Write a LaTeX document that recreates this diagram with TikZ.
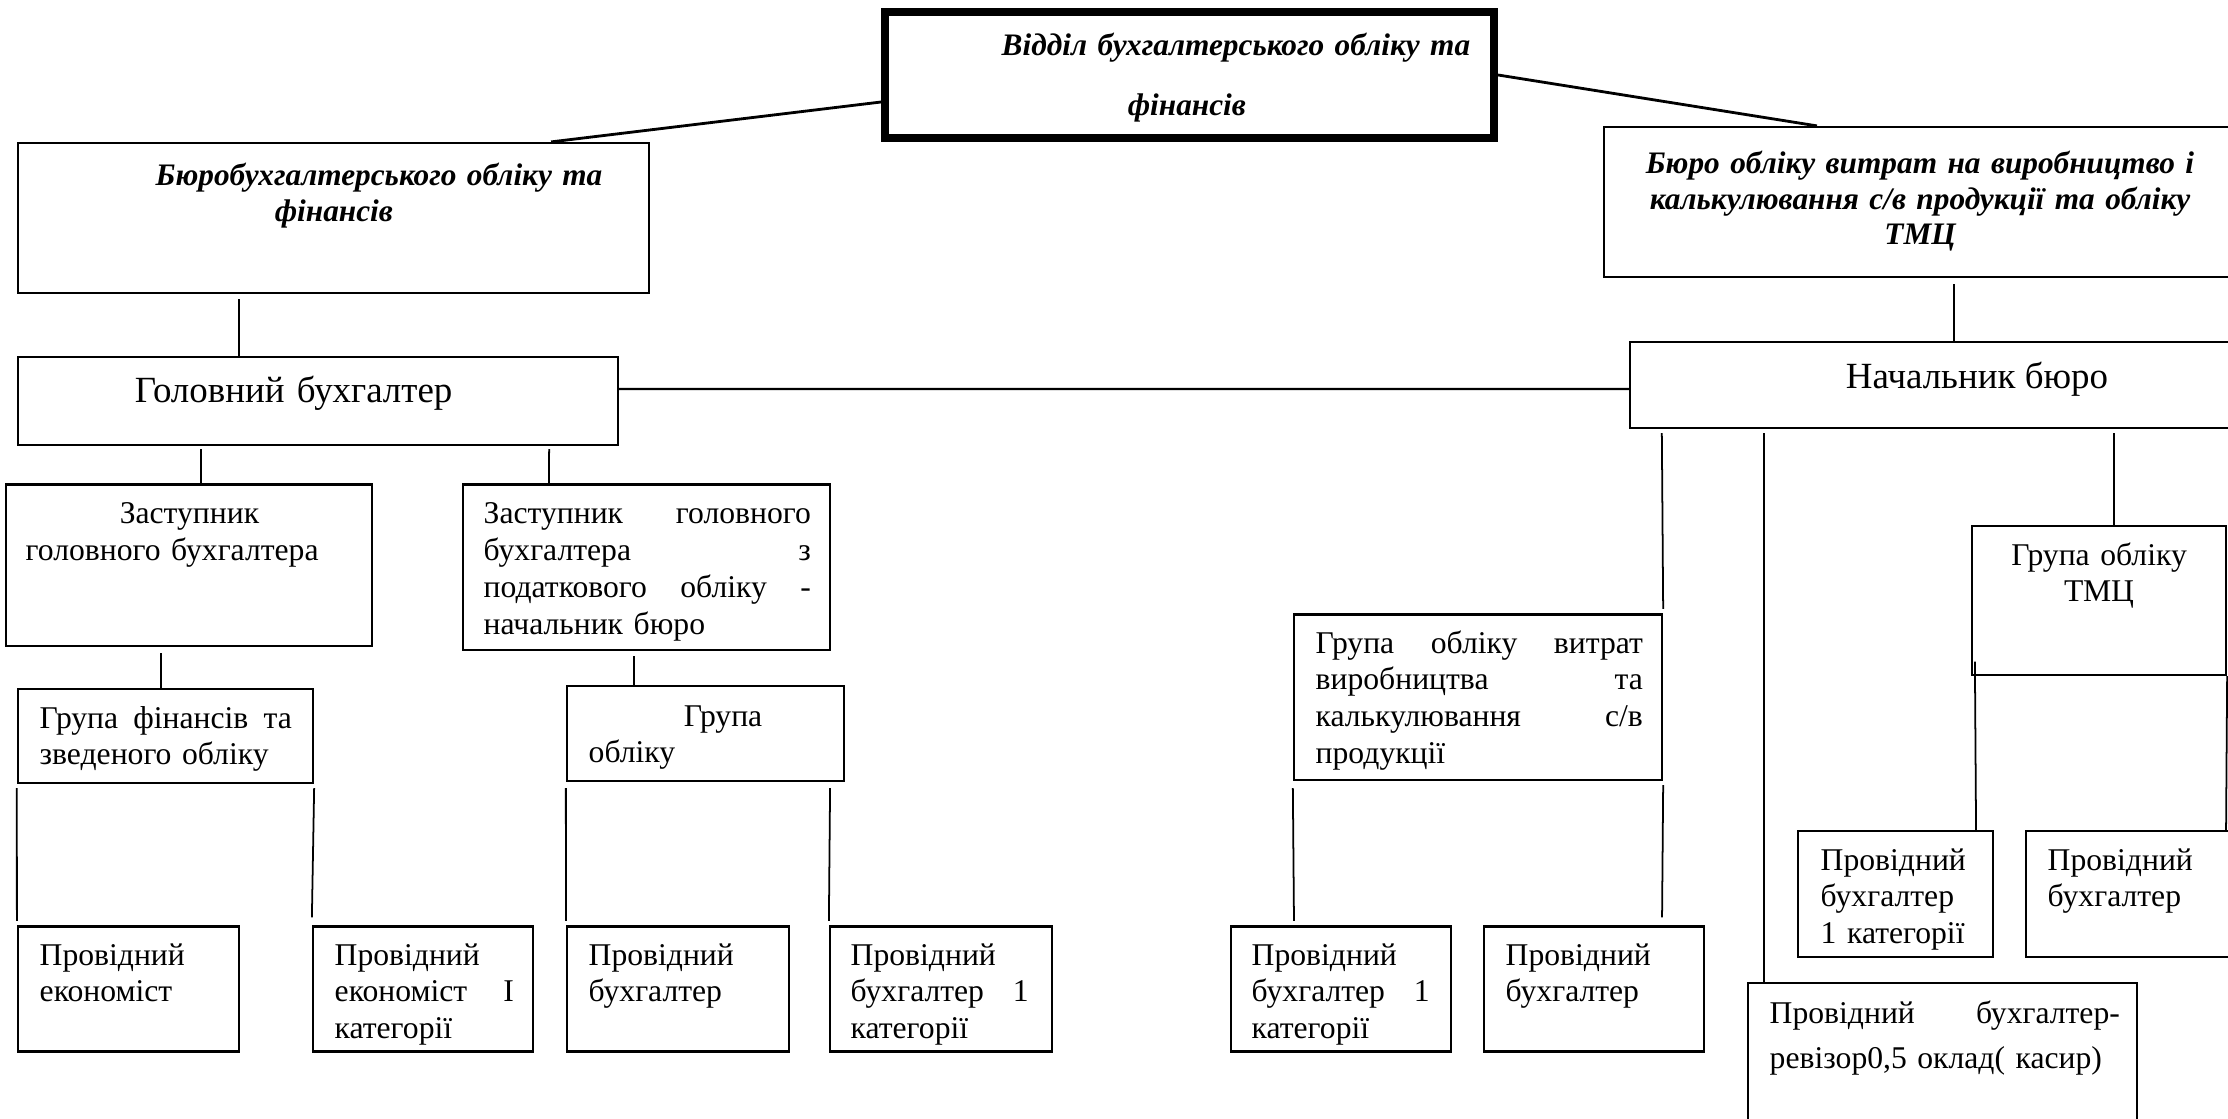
\documentclass[tikz,border=0pt]{standalone}
\usepackage{fontspec}
\setmainfont{Liberation Serif}
\begin{document}
\begin{tikzpicture}[x=0.01cm, y=-0.01cm,
    boxn/.style={draw, line width=0.6pt, inner sep=0pt},
    txt/.style={anchor=base west, align=left, inner sep=0pt, font=\fontsize{9}{10.5}\selectfont},
    ttl/.style={font=\fontsize{8.9}{10.2}\selectfont\bfseries\itshape},
    big/.style={font=\fontsize{10.5}{12}\selectfont, text height=7pt},
    conn/.style={line width=0.5pt}]
  \useasboundingbox (0,0) rectangle (2228,1119);
  \clip (0,0) rectangle (2228,1119);

  \node[boxn, line width=2.2pt, minimum width=6.09cm, minimum height=1.26cm] (nTop) at (1189.5,75) {};
  \node[boxn, minimum width=6.31cm, minimum height=1.5cm] (nBuro) at (333.5,218) {};
  \node[boxn, minimum width=6.32cm, minimum height=1.5cm] (nBuroR) at (1920,202) {};
  \node[boxn, big, text depth=6pt, minimum width=6cm, minimum height=0.88cm, text width=3.66cm, inner xsep=1.17cm, align=left] (nChief) at (318,401) {Головний бухгалтер};
  \node[boxn, big, text depth=5pt, minimum width=6.94cm, minimum height=0.86cm] (nHead) at (1977,385) {Начальник бюро};
  \node[boxn, minimum width=3.66cm, minimum height=1.615cm] (nDep1) at (189,565.25) {};
  \node[boxn, minimum width=3.67cm, minimum height=1.655cm] (nDep2) at (646.5,567.25) {};
  \node[boxn, minimum width=2.95cm, minimum height=0.94cm] (nGrFin) at (165.5,736) {};
  \node[boxn, minimum width=2.77cm, minimum height=0.95cm] (nGrObl) at (705.5,733.5) {};
  \node[boxn, minimum width=3.68cm, minimum height=1.655cm] (nGrVyt) at (1478,697.25) {};
  \node[boxn, minimum width=2.54cm, minimum height=1.49cm] (nGrTMC) at (2099,600.5) {};
  \node[boxn, minimum width=2.21cm, minimum height=1.25cm] (nEc1) at (128.5,989) {};
  \node[boxn, minimum width=2.2cm, minimum height=1.25cm] (nEc2) at (423,989) {};
  \node[boxn, minimum width=2.22cm, minimum height=1.25cm] (nBh1) at (678,989) {};
  \node[boxn, minimum width=2.22cm, minimum height=1.25cm] (nBh2) at (941,989) {};
  \node[boxn, minimum width=2.2cm, minimum height=1.25cm] (nBh3) at (1341,989) {};
  \node[boxn, minimum width=2.2cm, minimum height=1.25cm] (nBh4) at (1594,989) {};
  \node[boxn, minimum width=1.95cm, minimum height=1.26cm] (nBh5) at (1895.5,894) {};
  \node[boxn, minimum width=2.74cm, minimum height=1.26cm] (nBh6) at (2163,894) {};
  \node[boxn, minimum width=3.89cm, minimum height=2.17cm] (nRev) at (1942.5,1091.5) {};

  \node[txt, ttl, text width=5.2cm, font=\fontsize{8.9}{11}\selectfont\bfseries\itshape] (tTop) at (1001,56) {Відділ бухгалтерського обліку та\\[6pt]\hspace*{1.26cm}фінансів};
  \node[txt, ttl, text width=5cm] (tBuro) at (155,186) {Бюробухгалтерського обліку та\\\hspace*{1.19cm}фінансів};
  \node[txt, ttl, anchor=base, align=center, text width=6.1cm, font=\fontsize{8.9}{10}\selectfont\bfseries\itshape] (tBuroR) at (1920,174) {Бюро обліку витрат на виробництво і\\калькулювання с/в продукції та обліку\\ТМЦ};
  \node[txt, text width=3.3cm] (tDep1) at (25,524) {\hspace*{0.94cm}Заступник\\головного бухгалтера};
  \node[txt, text width=3.27cm] (tDep2) at (483,524) {Заступник \hfill головного\\бухгалтера \hfill з\\податкового \hfill обліку \hfill -\\начальник бюро};
  \node[txt, text width=2.52cm] (tGrFin) at (39,728) {Група \hfill фінансів \hfill та\\зведеного обліку};
  \node[txt, text width=2.3cm] (tGrObl) at (588,726) {\hspace*{0.95cm}Група\\обліку};
  \node[txt, text width=3.27cm] (tGrVyt) at (1315,653) {Група \hfill обліку \hfill витрат\\виробництва \hfill та\\калькулювання \hfill с/в\\продукції};
  \node[txt, anchor=base, align=center, text width=2.3cm] (tGrTMC) at (2099,565) {Група обліку\\ТМЦ};
  \node[txt, text width=1.9cm] (tEc1) at (39,965) {Провідний\\економіст};
  \node[txt, text width=1.79cm] (tEc2) at (334,965) {Провідний\\економіст \hfill I\\категорії};
  \node[txt, text width=1.9cm] (tBh1) at (588,965) {Провідний\\бухгалтер};
  \node[txt, text width=1.78cm] (tBh2) at (850,965) {Провідний\\бухгалтер \hfill 1\\категорії};
  \node[txt, text width=1.78cm] (tBh3) at (1251,965) {Провідний\\бухгалтер \hfill 1\\категорії};
  \node[txt, text width=1.9cm] (tBh4) at (1505,965) {Провідний\\бухгалтер};
  \node[txt, text width=1.65cm] (tBh5) at (1820,870) {Провідний\\бухгалтер\\1 категорії};
  \node[txt, text width=1.7cm] (tBh6) at (2047,870) {Провідний\\бухгалтер};
  \node[txt, text width=3.5cm] (tRev) at (1769,1023) {Провідний \hfill бухгалтер-\\[2.5pt]ревізор0,5 оклад( касир)};

  \draw[line width=0.8pt] ([yshift=-0.27cm]nTop.west) -- ([xshift=2.175cm]nBuro.north);
  \draw[line width=0.8pt] (nTop.east) -- ([xshift=-1.03cm]nBuroR.north);

  \draw[conn] ([xshift=-0.945cm, yshift=-0.05cm]nBuro.south) -- ([xshift=-0.79cm]nChief.north);
  \draw[conn] ([xshift=-1.17cm, yshift=-0.03cm]nChief.south) -- ([xshift=0.12cm]nDep1.north);
  \draw[conn] ([xshift=2.31cm, yshift=-0.03cm]nChief.south) -- ([xshift=-0.975cm]nDep2.north);
  \draw[conn] ([xshift=-0.28cm, yshift=-0.06cm]nDep1.south) -- ([xshift=-0.045cm]nGrFin.north);
  \draw[conn] ([xshift=-0.125cm, yshift=-0.05cm]nDep2.south) -- ([xshift=-0.715cm]nGrObl.north);
  \draw[conn] ([yshift=-0.04cm]nGrFin.south west) -- ([yshift=0.045cm]nEc1.north west);
  \draw[conn] ([yshift=-0.04cm]nGrFin.south east) -- ([yshift=0.08cm]nEc2.north west);
  \draw[conn] ([yshift=-0.06cm]nGrObl.south west) -- ([yshift=0.045cm]nBh1.north west);
  \draw[conn] ([xshift=1.245cm, yshift=-0.06cm]nGrObl.south) -- ([yshift=0.045cm]nBh2.north west);

  \draw[line width=0.6pt] ([yshift=0.12cm]nChief.east) -- ([yshift=-0.04cm]nHead.west);

  \draw[conn] ([xshift=0.34cm, yshift=-0.06cm]nBuroR.south) -- ([xshift=-0.23cm]nHead.north);
  \draw[conn] ([xshift=-3.15cm, yshift=-0.04cm]nHead.south) -- ([yshift=0.045cm]nGrVyt.north east);
  \draw[conn] ([xshift=-2.13cm, yshift=-0.04cm]nHead.south) -- ([xshift=-1.785cm]nRev.north);
  \draw[conn] ([xshift=1.37cm, yshift=-0.04cm]nHead.south) -- ([xshift=0.15cm]nGrTMC.north);
  \draw[conn] ([yshift=-0.07cm]nGrVyt.south west) -- ([xshift=-0.47cm, yshift=0.045cm]nBh3.north);
  \draw[conn] ([yshift=-0.04cm]nGrVyt.south east) -- ([xshift=0.68cm, yshift=0.08cm]nBh4.north);
  \draw[conn] ([xshift=0.04cm, yshift=0.145cm]nGrTMC.south west) -- ([xshift=0.805cm]nBh5.north);
  \draw[conn] (nGrTMC.south east) -- ([xshift=0.63cm]nBh6.north);
\end{tikzpicture}
\end{document}
